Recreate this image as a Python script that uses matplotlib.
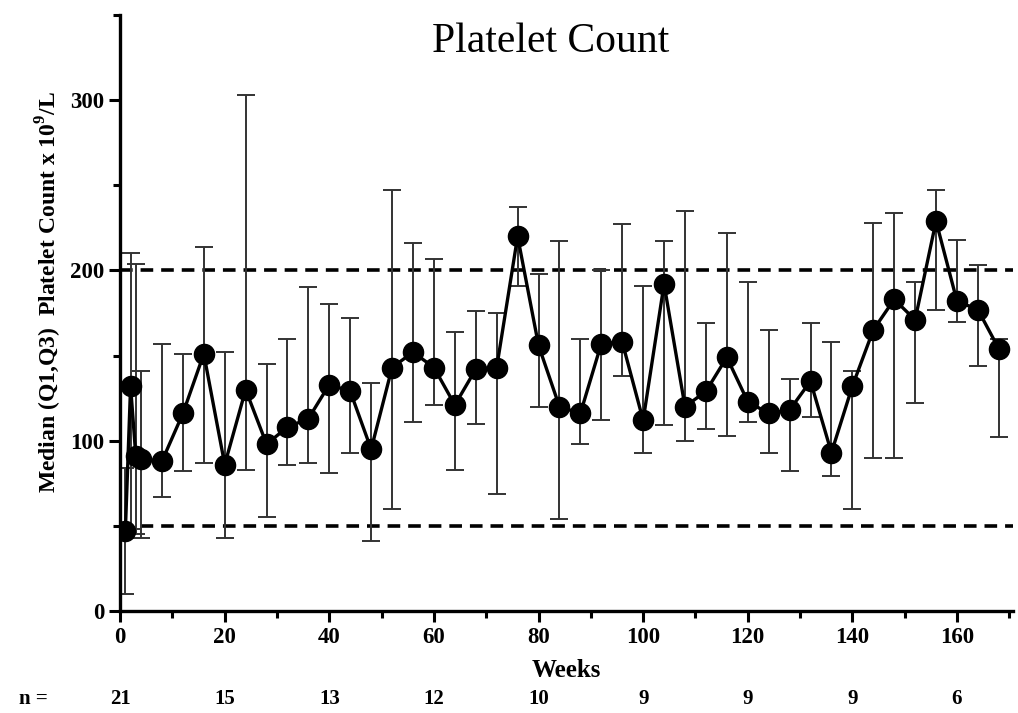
import matplotlib
matplotlib.use("Agg")
import matplotlib.pyplot as plt
from matplotlib.ticker import MultipleLocator

weeks = [1, 2, 3, 4, 8, 12, 16, 20, 24, 28, 32, 36, 40, 44, 48, 52, 56, 60, 64,
         68, 72, 76, 80, 84, 88, 92, 96, 100, 104, 108, 112, 116, 120, 124, 128,
         132, 136, 140, 144, 148, 152, 156, 160, 164, 168]
median = [47, 132, 91, 89, 88, 116, 151, 86, 130, 98, 108, 113, 133, 129, 95,
          143, 152, 143, 121, 142, 143, 220, 156, 120, 116, 157, 158, 112, 192,
          120, 129, 149, 123, 116, 118, 135, 93, 132, 165, 183, 171, 229, 182,
          177, 154]
q1 = [10, 48, 45, 43, 67, 82, 87, 43, 83, 55, 86, 87, 81, 93, 41, 60, 111, 121,
      83, 110, 69, 191, 120, 54, 98, 112, 138, 93, 109, 100, 107, 103, 111, 93,
      82, 114, 79, 60, 90, 90, 122, 177, 170, 144, 102]
q3 = [84, 210, 204, 141, 157, 151, 214, 152, 303, 145, 160, 190, 180, 172, 134,
      247, 216, 207, 164, 176, 175, 237, 198, 217, 160, 200, 227, 191, 217, 235,
      169, 222, 193, 165, 136, 169, 158, 141, 228, 234, 193, 247, 218, 203, 160]

ref_lines = [50, 200]
n_weeks = [0, 20, 40, 60, 80, 100, 120, 140, 160]
n_counts = [21, 15, 13, 12, 10, 9, 9, 9, 6]

plt.rcParams.update({
    "font.family": "Liberation Serif",
    "font.weight": "bold",
    "mathtext.fontset": "custom",
    "mathtext.rm": "Liberation Serif:bold",
    "mathtext.bf": "Liberation Serif:bold",
})

fig = plt.figure(figsize=(10.18, 7.13), dpi=100)
ax = fig.add_axes([0.118, 0.143, 0.877, 0.836])

for y in ref_lines:
    ax.axhline(y, color="black", lw=2.6, linestyle=(0, (3.5, 2.2)), zorder=1)

yerr = [[m - lo for m, lo in zip(median, q1)], [hi - m for m, hi in zip(median, q3)]]
ax.errorbar(weeks, median, yerr=yerr, fmt="none", ecolor="#333333",
            elinewidth=1.4, capsize=6.2, capthick=1.4, zorder=2)
ax.plot(weeks, median, "-o", color="black", lw=2.4, markersize=14.5, zorder=3)

ax.set_xlim(0, 170.7)
ax.set_ylim(0, 350)
ax.xaxis.set_major_locator(MultipleLocator(20))
ax.xaxis.set_minor_locator(MultipleLocator(10))
ax.yaxis.set_major_locator(MultipleLocator(100))
ax.yaxis.set_minor_locator(MultipleLocator(50))

for s in ("top", "right"):
    ax.spines[s].set_visible(False)
for s in ("left", "bottom"):
    ax.spines[s].set_linewidth(2.4)
ax.tick_params(which="major", length=8, width=2.2, labelsize=16.5, direction="out")
ax.tick_params(which="minor", length=5, width=2.2, direction="out")

ax.set_xlabel("Weeks", fontsize=18, fontweight="bold", labelpad=8)
ax.set_ylabel(r"Median (Q1,Q3)  Platelet Count x 10$^{\mathrm{9}}$/L",
              fontsize=17, fontweight="bold")
ax.yaxis.set_label_coords(-0.063, 0.535)

fig.text(0.541, 0.942, "Platelet Count", fontsize=30, fontweight="normal",
         ha="center", va="center")

# n = row under the axis
fig.text(0.033, 0.005, "n =", fontsize=15, fontweight="bold", ha="center", va="bottom")
for w, n in zip(n_weeks, n_counts):
    xf = fig.transFigure.inverted().transform(ax.transData.transform((w, 0)))[0]
    fig.text(xf, 0.005, str(n), fontsize=15, fontweight="bold",
             ha="center", va="bottom")

fig.savefig("out.png", dpi=100)
